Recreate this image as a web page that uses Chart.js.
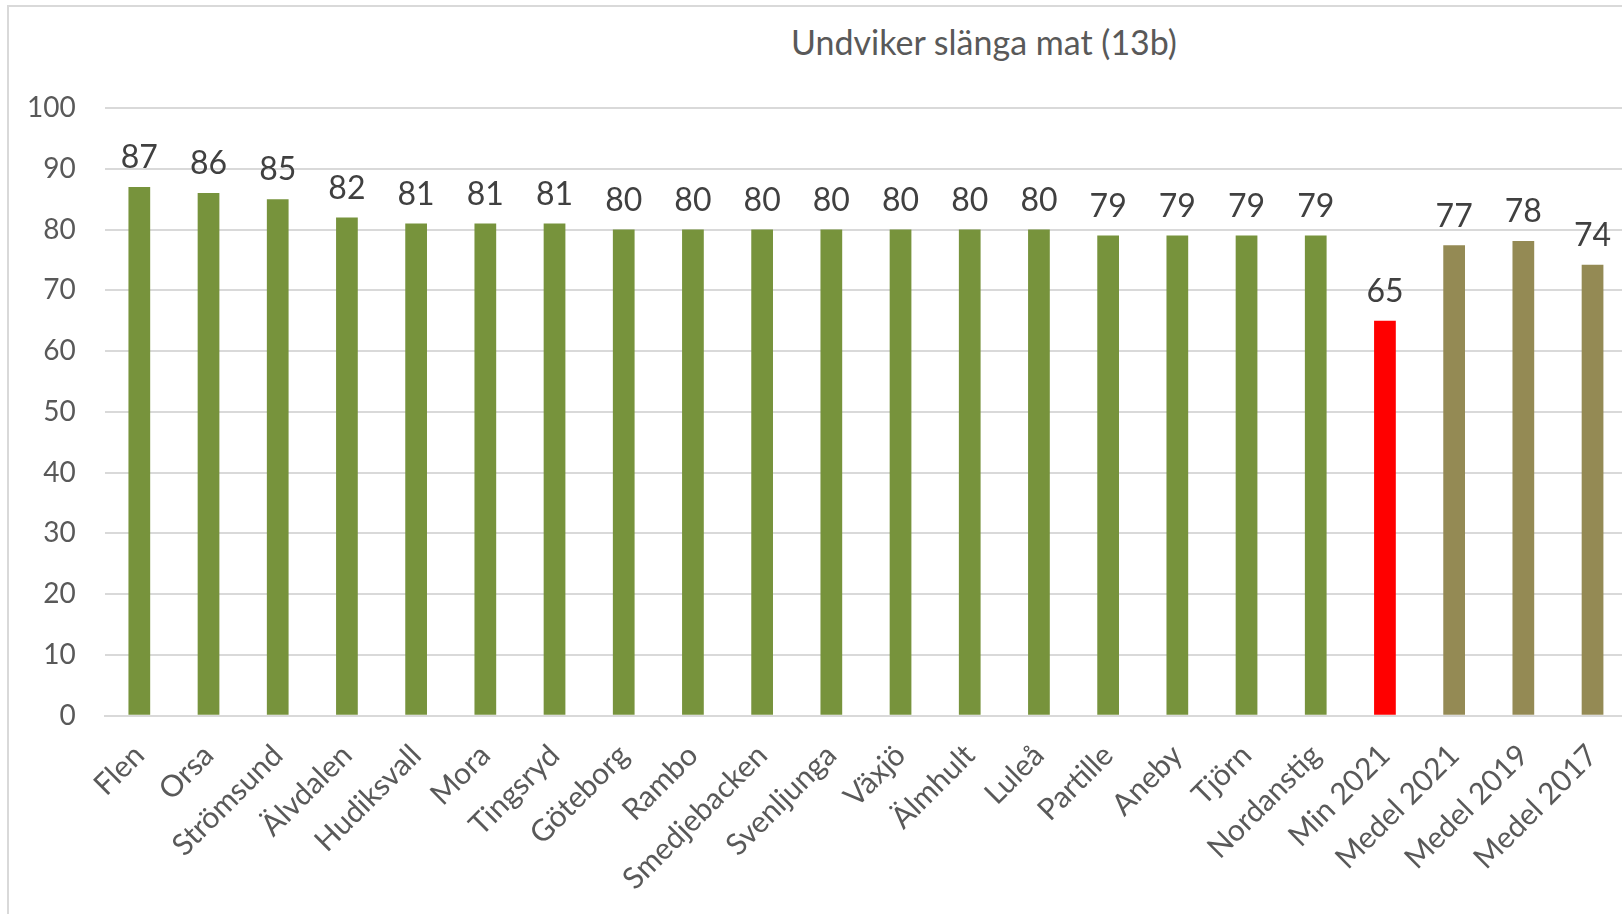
<!DOCTYPE html>
<html>
<head>
<meta charset="utf-8">
<script src="https://cdn.jsdelivr.net/npm/chart.js@4"></script>
<style>
  html, body { margin: 0; padding: 0; background: #fff; overflow: hidden; }
  #frame {
    position: absolute; left: 7px; top: 5px;
    width: 1650px; height: 940px;
    border: 2px solid #d9d9d9;
  }
  #title {
    position: absolute; left: 0; top: 14px; width: 1950px;
    text-align: center;
    font-family: Lato, sans-serif; font-size: 34px; color: #595959;
  }
  canvas { position: absolute; left: -31px; top: 0; }
</style>
</head>
<body>
<div id="frame">
  <div id="title">Undviker slänga mat (13b)</div>
  <canvas id="chart" width="1654" height="908"></canvas>
</div>
<script>
// Kategorier och värden
const categories = ['Flen', 'Orsa', 'Strömsund', 'Älvdalen', 'Hudiksvall', 'Mora', 'Tingsryd',
  'Göteborg', 'Rambo', 'Smedjebacken', 'Svenljunga', 'Växjö', 'Älmhult', 'Luleå',
  'Partille', 'Aneby', 'Tjörn', 'Nordanstig', 'Min 2021', 'Medel 2021', 'Medel 2019', 'Medel 2017'];
const values = [87, 86, 85, 82, 81, 81, 81, 80, 80, 80, 80, 80, 80, 80, 79, 79, 79, 79, 65, 77.4, 78.1, 74.2];
const yTicks = [0, 10, 20, 30, 40, 50, 60, 70, 80, 90, 100];

// Färger: kommuner gröna, min röd, medel oliv
const barColors = categories.map(c => {
    if (c.startsWith('Min')) return '#FF0000';
    if (c.startsWith('Medel')) return '#948A54';
    return '#77933C';
});

// Etiketter ovanför staplarna
const valueLabels = {
    id: 'valueLabels',
    afterDatasetsDraw(chart) {
        const ctx = chart.ctx;
        const meta = chart.getDatasetMeta(0);
        ctx.save();
        ctx.font = '32px Lato, sans-serif';
        ctx.fillStyle = '#404040';
        ctx.textAlign = 'center';
        ctx.textBaseline = 'bottom';
        meta.data.forEach((bar, i) => {
            ctx.fillText(Math.round(values[i]), bar.x, bar.y - 13);
        });
        ctx.restore();
    }
};

const ctx = document.getElementById('chart').getContext('2d');
new Chart(ctx, {
    type: 'bar',
    data: {
        labels: categories,
        datasets: [{
            data: values,
            backgroundColor: barColors,
            barPercentage: 0.314,
            categoryPercentage: 1.0
        }]
    },
    options: {
        responsive: false,
        animation: false,
        layout: { padding: { top: 101, left: 20, right: 0, bottom: 4 } },
        plugins: {
            legend: { display: false },
            tooltip: { enabled: false },
            title: { display: false }
        },
        scales: {
            x: {
                grid: { display: false },
                border: { color: '#d9d9d9', width: 2 },
                ticks: {
                    color: '#595959',
                    font: { family: 'Lato', size: 30 },
                    minRotation: 45,
                    maxRotation: 45,
                    autoSkip: false,
                    padding: 14
                }
            },
            y: {
                min: 0,
                max: 100,
                afterBuildTicks: axis => { axis.ticks = yTicks.map(v => ({ value: v })); },
                grid: { color: '#d9d9d9', lineWidth: 2, drawTicks: false },
                border: { display: false },
                ticks: {
                    color: '#595959',
                    font: { family: 'Lato', size: 28 },
                    padding: 29
                }
            }
        }
    },
    plugins: [valueLabels]
});
</script>
</body>
</html>
